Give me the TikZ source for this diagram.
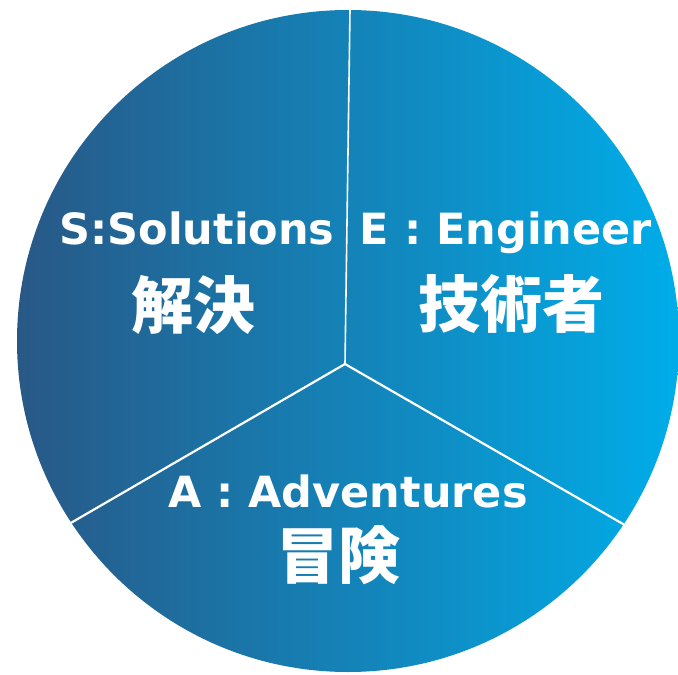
\documentclass[tikz,border=0pt]{standalone}
\usepackage{fontspec}
\setmainfont{DejaVu Sans}
\newfontfamily\jpfont{Noto Sans CJK JP}
\definecolor{discleft}{HTML}{285886}
\definecolor{discmid}{HTML}{027AAF}
\definecolor{discright}{HTML}{00ADE9}
\tikzset{
  divider/.style={draw=white, line width=2.2pt},
  latin/.style={text=white, anchor=base, inner sep=0pt, font=\bfseries\fontsize{43}{50}\selectfont},
  kanji/.style={text=white, font=\jpfont\bfseries\fontsize{62}{70}\selectfont}
}

\begin{document}
\begin{tikzpicture}[x=1pt, y=-1pt]

% page frame
\useasboundingbox (0,0) rectangle (678,675);

% disc
\shade[left color=discleft, middle color=discmid, right color=discright] (348,341) circle (331pt);

% dividing lines
\coordinate (hub) at (345,364);
\coordinate (rimtop) at (350,10);
\coordinate (rimsw) at (69,524);
\coordinate (rimse) at (630,528);
\draw[divider, line width=1.6pt] (hub) -- (rimtop);
\draw[divider] (hub) -- (rimsw);
\draw[divider] (hub) -- (rimse);

% labels
\node[latin] (sol) at (197,244) {S:Solutions};
\node[kanji] (solj) at (193,305) {解決};

\node[latin] (eng) at (506,244) {E : Engineer};
\node[kanji] (engj) at (511,304) {技術者};

\node[latin] (adv) at (348,507) {A : Adventures};
\node[kanji] (advj) at (338,555) {冒険};

\end{tikzpicture}
\end{document}
